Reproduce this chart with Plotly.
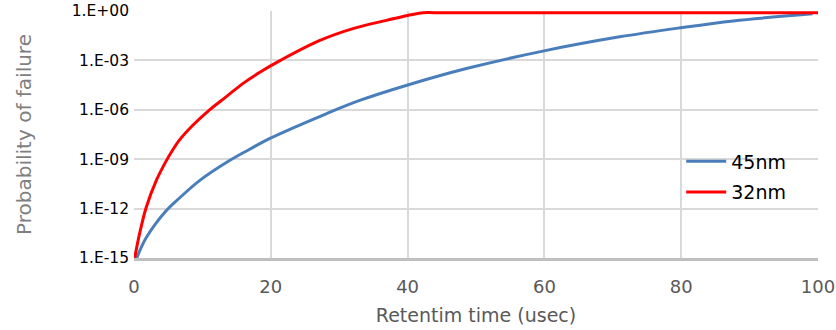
import plotly.graph_objects as go

# Data
x_45nm = [0.4, 1.8, 4.7, 6.66, 9.58, 13.97, 16.9, 19.8, 28.1, 33.0, 39.9, 48.6, 59.95, 71.0, 79.85, 87.6, 99.2]
p_45nm = [1e-15, 1.74e-14, 7.4e-13, 4.4e-12, 5.0e-11, 8.3e-10, 4.0e-9, 1.78e-8,
          5.75e-7, 3.7e-6, 3.1e-5, 3.2e-4, 3.8e-3, 2.7e-2, 9.5e-2, 0.25, 0.68]

x_32nm = [0.1, 0.8, 1.78, 3.25, 4.71, 5.7, 6.66, 8.6, 11.05, 13.5, 15.9, 18.4, 21.4, 27.1, 32.0, 36.9, 40.0, 42.3, 44.0, 100]
p_32nm = [1e-15, 2.82e-14, 1.17e-12, 5.0e-11, 7.9e-10, 3.9e-9, 1.48e-8, 1.15e-7, 1.0e-6, 6.3e-6,
          3.9e-5, 1.9e-4, 1.0e-3, 1.58e-2, 8.5e-2, 0.27, 0.54, 0.79, 0.794, 0.794]

x_ticks = [0, 20, 40, 60, 80, 100]
y_tickvals = [1e-15, 1e-12, 1e-9, 1e-6, 1e-3, 1]
y_ticktext = ["1.E-15", "1.E-12", "1.E-09", "1.E-06", "1.E-03", "1.E+00"]

FONT = "DejaVu Sans"

fig = go.Figure()
fig.add_trace(go.Scatter(x=x_45nm, y=p_45nm, mode="lines", name="45nm",
                         line=dict(color="#4a7ebb", width=3, shape="spline", smoothing=1.0),
                         legendgroup="a"))
fig.add_trace(go.Scatter(x=x_32nm, y=p_32nm, mode="lines", name="32nm",
                         line=dict(color="#ff0000", width=3, shape="spline", smoothing=1.0),
                         legendgroup="b"))

fig.update_layout(
    width=836, height=330,
    margin=dict(l=134, r=18, t=11, b=72),
    paper_bgcolor="white", plot_bgcolor="white",
    font=dict(family=FONT),
    showlegend=True,
    legend=dict(x=0.8, y=0.468, xanchor="left", yanchor="top",
                bgcolor="rgba(0,0,0,0)", font=dict(size=19, color="#000000"),
                itemwidth=40, tracegroupgap=3),
)
fig.update_xaxes(
    range=[0, 100], tickvals=x_ticks, ticks="",
    showgrid=True, gridcolor="#d9d9d9", gridwidth=2,
    showline=True, linecolor="#bfbfbf", linewidth=3,
    zeroline=False, automargin=False,
    tickfont=dict(size=18, color="#595959"),
    ticklabelstandoff=10,
    title=dict(text="Retentim time (usec)", font=dict(size=19, color="#595959"), standoff=14),
)
fig.update_yaxes(
    type="log", range=[-15, 0], tickvals=y_tickvals, ticktext=y_ticktext, ticks="",
    showgrid=True, gridcolor="#d9d9d9", gridwidth=2,
    showline=False, zeroline=False, automargin=False,
    tickfont=dict(size=15.5, color="#000000"),
    ticklabelstandoff=4,
    title=dict(text="Probability of failure", font=dict(size=20, color="#7f7f7f"), standoff=34),
)

fig.write_html("out.html")
